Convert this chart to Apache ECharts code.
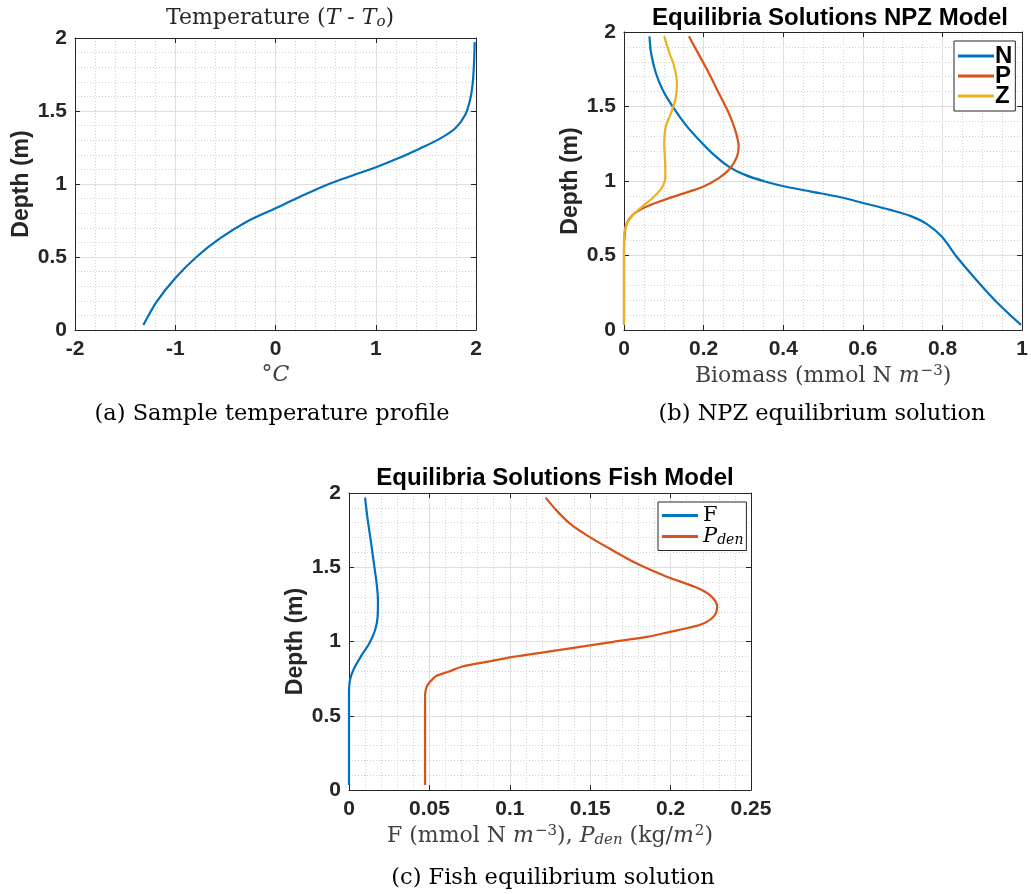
<!DOCTYPE html>
<html><head><meta charset="utf-8">
<script src="https://cdn.jsdelivr.net/npm/echarts@6/dist/echarts.min.js"></script>
<style>html,body{margin:0;padding:0;background:#fff}#c{width:1031px;height:894px}</style>
</head><body><div id="c"></div>
<script>
// ---- data ----
const tempDepth = [0.034,0.194,0.353,0.502,0.627,0.741,0.832,0.912,1.003,1.060,1.117,1.181,1.243,1.311,1.380,1.471,1.574,1.688,1.824,1.973];
const tempValue = [-1.318,-1.185,-1.003,-0.786,-0.554,-0.288,-0.005,0.244,0.544,0.776,1.009,1.242,1.441,1.641,1.791,1.890,1.940,1.967,1.980,1.987];

const nDepth = [1.971,1.859,1.725,1.613,1.501,1.377,1.277,1.187,1.097,1.041,0.997,0.963,0.929,0.896,0.851,0.806,0.766,0.712,0.627,0.493,0.336,0.190,0.034];
const nValue = [0.064,0.068,0.080,0.097,0.122,0.155,0.188,0.221,0.263,0.304,0.354,0.404,0.470,0.536,0.603,0.669,0.719,0.760,0.798,0.835,0.885,0.935,0.997];

const pDepth = [1.971,1.848,1.725,1.590,1.456,1.344,1.232,1.165,1.086,1.019,0.959,0.907,0.862,0.817,0.773,0.717,0.650,0.538,0.034];
const pValue = [0.163,0.188,0.213,0.238,0.263,0.279,0.288,0.284,0.267,0.238,0.197,0.138,0.089,0.047,0.022,0.007,0.002,0.000,0.000];

const zDepth = [1.971,1.859,1.769,1.657,1.545,1.456,1.366,1.254,1.142,1.030,0.963,0.896,0.840,0.784,0.728,0.672,0.605,0.034];
const zValue = [0.101,0.114,0.126,0.133,0.129,0.118,0.105,0.101,0.103,0.104,0.097,0.076,0.051,0.027,0.010,0.002,0.000,0.000];

const fDepth = [1.969,1.839,1.682,1.525,1.390,1.278,1.166,1.076,0.987,0.908,0.818,0.740,0.650,0.034];
const fValue = [0.0100,0.0114,0.0135,0.0155,0.0172,0.0180,0.0178,0.0162,0.0126,0.0079,0.0031,0.0006,0.0000,0.0000];

const pdenDepth = [1.969,1.883,1.794,1.715,1.626,1.525,1.435,1.368,1.312,1.233,1.166,1.121,1.094,1.065,1.031,0.998,0.964,0.930,0.897,0.863,0.830,0.796,0.769,0.729,0.695,0.639,0.034];
const pdenValue = [0.1223,0.129,0.1374,0.148,0.162,0.179,0.198,0.215,0.2245,0.229,0.2266,0.2204,0.212,0.1996,0.185,0.1644,0.1437,0.1229,0.1022,0.0856,0.0701,0.0618,0.0545,0.0504,0.0483,0.0473,0.0473];

const npzLegend = ['N','P','Z'];
const fishLegend = ['F','Pden'];
// ---------------

const zip = (xs, ys) => xs.map((x, i) => [x, ys[i]]);
const SANS = 'Liberation Sans';
const SERIF = 'DejaVu Serif';
const AX = '#262626';
const C1 = '#0072BD', C2 = '#D95319', C3 = '#EDB120';

const grids = [
  {left: 75, top: 38, width: 401, height: 292},
  {left: 624, top: 32, width: 402, height: 298},
  {left: 349, top: 493, width: 402, height: 297}
];

const serifRich = {
  r: {fontFamily: SERIF, fontSize: 22, color: '#404040'},
  i: {fontFamily: SERIF, fontSize: 22, fontStyle: 'italic', color: '#404040'},
  sup: {fontFamily: SERIF, fontSize: 15, color: '#404040', padding: [0, 0, 9, 1]},
  sub: {fontFamily: SERIF, fontSize: 15, fontStyle: 'italic', color: '#404040', padding: [9, 0, 0, 0]}
};

function xAxisCfg(gi, min, max, interval, minorN, name, nameGap) {
  return {
    type: 'value', gridIndex: gi, min, max, interval, position: 'bottom',
    name, nameLocation: 'middle', nameGap,
    nameTextStyle: {rich: serifRich, fontFamily: SERIF, fontSize: 22, color: '#404040'},
    axisLine: {show: true, onZero: false, lineStyle: {color: AX, width: 1}},
    axisTick: {show: true, inside: true, length: 5, lineStyle: {color: AX}},
    axisLabel: {color: AX, fontFamily: SANS, fontWeight: 'bold', fontSize: 21, margin: 9},
    splitLine: {show: true, lineStyle: {color: '#dedede', width: 1}},
    minorTick: {show: false, splitNumber: minorN},
    minorSplitLine: {show: true, lineStyle: {color: '#d2d2d2', type: [1, 2], width: 1}}
  };
}
function xTopCfg(gi, min, max, interval) {
  return {
    type: 'value', gridIndex: gi, min, max, interval, position: 'top',
    axisLine: {show: true, onZero: false, lineStyle: {color: AX, width: 1}},
    axisTick: {show: true, inside: true, length: 5, lineStyle: {color: AX}},
    axisLabel: {show: false}, splitLine: {show: false}
  };
}
function yAxisCfg(gi) {
  return {
    type: 'value', gridIndex: gi, min: 0, max: 2, interval: 0.5, position: 'left',
    name: 'Depth (m)', nameLocation: 'middle', nameGap: 42, nameRotate: 90,
    nameTextStyle: {fontFamily: SANS, fontWeight: 'bold', fontSize: 23, color: AX},
    axisLine: {show: true, onZero: false, lineStyle: {color: AX, width: 1}},
    axisTick: {show: true, inside: true, length: 5, lineStyle: {color: AX}},
    axisLabel: {color: AX, fontFamily: SANS, fontWeight: 'bold', fontSize: 21, margin: 8},
    splitLine: {show: true, lineStyle: {color: '#dedede', width: 1}},
    minorTick: {show: false, splitNumber: 5},
    minorSplitLine: {show: true, lineStyle: {color: '#d2d2d2', type: [1, 2], width: 1}}
  };
}
function yRightCfg(gi) {
  return {
    type: 'value', gridIndex: gi, min: 0, max: 2, interval: 0.5, position: 'right',
    axisLine: {show: true, onZero: false, lineStyle: {color: AX, width: 1}},
    axisTick: {show: true, inside: true, length: 5, lineStyle: {color: AX}},
    axisLabel: {show: false}, splitLine: {show: false}
  };
}

const xAxes = [
  xAxisCfg(0, -2, 2, 1, 5, '{r|°}{i|C}', 34),
  xAxisCfg(1, 0, 1, 0.2, 4, '{r|Biomass (mmol N }{i|m}{sup|−3}{r|)}', 34),
  xAxisCfg(2, 0, 0.25, 0.05, 5, '{r|F (mmol N }{i|m}{sup|−3}{r|), }{i|P}{sub|den}{r| (kg/}{i|m}{sup|2}{r|)}', 34),
  xTopCfg(0, -2, 2, 1), xTopCfg(1, 0, 1, 0.2), xTopCfg(2, 0, 0.25, 0.05)
];
const yAxes = [yAxisCfg(0), yAxisCfg(1), yAxisCfg(2), yRightCfg(0), yRightCfg(1), yRightCfg(2)];

function lineSeries(name, xi, yi, data, color) {
  return {
    name, type: 'line', xAxisIndex: xi, yAxisIndex: yi, data,
    showSymbol: false, symbol: 'none', smooth: 0.3, animation: false,
    lineStyle: {color, width: 2.2}, itemStyle: {color}
  };
}

const series = [
  lineSeries('temp', 0, 0, zip(tempValue, tempDepth), C1),
  lineSeries(npzLegend[0], 1, 1, zip(nValue, nDepth), C1),
  lineSeries(npzLegend[1], 1, 1, zip(pValue, pDepth), C2),
  lineSeries(npzLegend[2], 1, 1, zip(zValue, zDepth), C3),
  lineSeries(fishLegend[0], 2, 2, zip(fValue, fDepth), C1),
  lineSeries(fishLegend[1], 2, 2, zip(pdenValue, pdenDepth), C2)
];

const blackRich = {
  r: {fontFamily: SERIF, fontSize: 22, color: '#262626'},
  i: {fontFamily: SERIF, fontSize: 22, fontStyle: 'italic', color: '#262626'},
  sub: {fontFamily: SERIF, fontSize: 15, fontStyle: 'italic', color: '#262626', padding: [9, 0, 0, 0]}
};

const titles = [
  {text: '{r|Temperature (}{i|T}{r| - }{i|T}{sub|o}{r|)}', left: 275, top: 1, textAlign: 'center',
   textStyle: {rich: blackRich, fontFamily: SERIF, fontSize: 22, fontWeight: 'normal'}},
  {text: 'Equilibria Solutions NPZ Model', left: 825, top: 1, textAlign: 'center',
   textStyle: {fontFamily: SANS, fontWeight: 'bold', fontSize: 24, color: '#000'}},
  {text: 'Equilibria Solutions Fish Model', left: 550, top: 461, textAlign: 'center',
   textStyle: {fontFamily: SANS, fontWeight: 'bold', fontSize: 24, color: '#000'}},
  {text: '(a) Sample temperature profile', left: 267, top: 398, textAlign: 'center',
   textStyle: {fontFamily: SERIF, fontWeight: 'normal', fontSize: 22.5, color: '#000'}},
  {text: '(b) NPZ equilibrium solution', left: 817, top: 398, textAlign: 'center',
   textStyle: {fontFamily: SERIF, fontWeight: 'normal', fontSize: 22.5, color: '#000'}},
  {text: '(c) Fish equilibrium solution', left: 548, top: 862, textAlign: 'center',
   textStyle: {fontFamily: SERIF, fontWeight: 'normal', fontSize: 22.5, color: '#000'}}
];

const legends = [
  {data: npzLegend, left: 954, top: 41, orient: 'vertical', icon: 'rect', itemWidth: 36, itemHeight: 3,
   itemGap: -4, padding: [3, 3, 3, 4], borderColor: AX, borderWidth: 1, backgroundColor: '#fff',
   textStyle: {fontFamily: SANS, fontWeight: 'bold', fontSize: 24, color: '#000', padding: [0, 0, 0, -4]},
   selectedMode: false},
  {data: fishLegend, left: 658, top: 502, orient: 'vertical', icon: 'rect', itemWidth: 36, itemHeight: 3,
   itemGap: 0, padding: [3, 3, 3, 4], borderColor: AX, borderWidth: 1, backgroundColor: '#fff',
   formatter: n => n === 'Pden' ? '{i|P}{sub|den}' : '{r|F}',
   textStyle: {fontFamily: SERIF, fontSize: 21, color: '#000',
     rich: {
       r: {fontFamily: SERIF, fontSize: 21, color: '#000'},
       i: {fontFamily: SERIF, fontSize: 21, fontStyle: 'italic', color: '#000'},
       sub: {fontFamily: SERIF, fontSize: 14, fontStyle: 'italic', color: '#000', padding: [8, 0, 0, 0]}
     }},
   selectedMode: false}
];

const chart = echarts.init(document.getElementById('c'), null, {renderer: 'canvas'});
chart.setOption({
  animation: false,
  backgroundColor: '#fff',
  title: titles,
  legend: legends,
  grid: grids,
  xAxis: xAxes,
  yAxis: yAxes,
  series
});
</script></body></html>
